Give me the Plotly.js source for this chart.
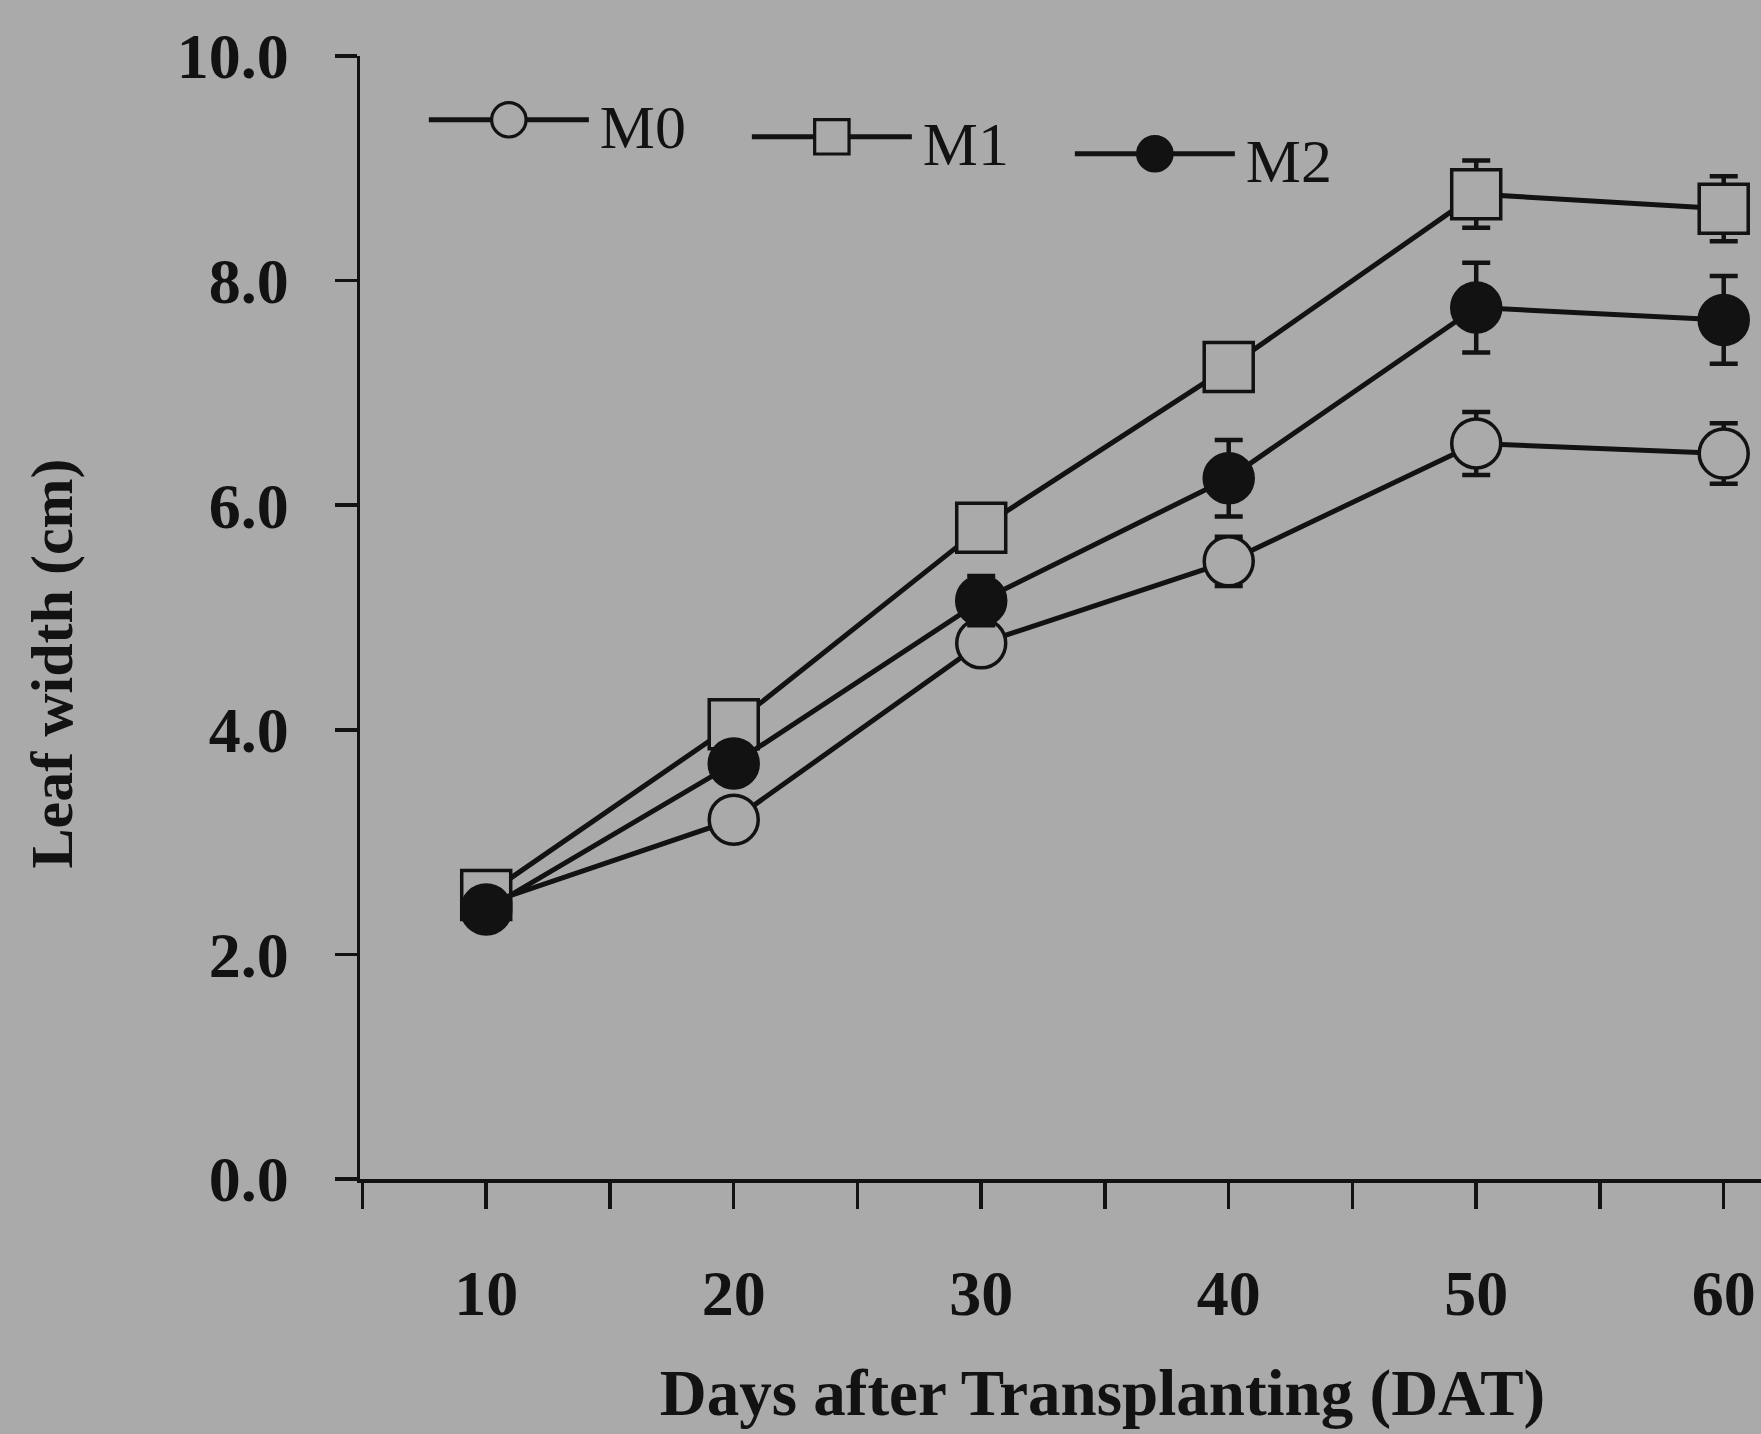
<!DOCTYPE html>
<html><head><meta charset="utf-8">
<script src="https://cdn.plot.ly/plotly-3.0.1.min.js"></script>
<style>html,body{margin:0;padding:0;overflow:hidden;background:#aaaaaa;} #chart{width:1845px;height:1434px;}</style>
</head><body><div id="chart"></div>
<script>
const days = [10, 20, 30, 40, 50, 60];
const seriesNames = ['M0', 'M1', 'M2'];
const m0 = [2.45, 3.20, 4.77, 5.50, 6.55, 6.46];
const m0Err = [0.08, 0.10, 0.12, 0.22, 0.28, 0.27];
const m1 = [2.53, 4.05, 5.80, 7.23, 8.77, 8.64];
const m1Err = [0.08, 0.12, 0.15, 0.18, 0.30, 0.29];
const m2 = [2.40, 3.70, 5.15, 6.24, 7.76, 7.65];
const m2Err = [0.08, 0.12, 0.22, 0.34, 0.40, 0.39];
const xTickVals = [5, 10, 15, 20, 25, 30, 35, 40, 45, 50, 55, 60, 65];
const xTickText = ['', '10', '', '20', '', '30', '', '40', '', '50', '', '60', ''];
const yTickVals = [0, 2, 4, 6, 8, 10];
const yTickText = ['0.0', '2.0', '4.0', '6.0', '8.0', '10.0'];

const BG = '#aaaaaa';
const INK = '#121212';
const FONT = 'Liberation Serif, Times New Roman, serif';

function mkTrace(name, y, err, symbol, fill) {
  return {
    type: 'scatter', mode: 'lines+markers', name: name,
    x: days, y: y,
    line: {color: INK, width: 5},
    marker: {symbol: symbol, size: 49, color: fill, line: {color: INK, width: 3.5}},
    error_y: {type: 'data', array: err, visible: true, color: INK, thickness: 4.5, width: 14},
    cliponaxis: false
  };
}

const data = [
  mkTrace(seriesNames[0], m0, m0Err, 'circle', BG),
  mkTrace(seriesNames[1], m1, m1Err, 'square', BG),
  mkTrace(seriesNames[2], m2, m2Err, 'circle', INK)
];

const layout = {
  width: 1845, height: 1434, autosize: false,
  paper_bgcolor: BG, plot_bgcolor: BG,
  margin: {l: 360, r: 0, t: 56, b: 255, pad: 0},
  font: {family: FONT, color: INK},
  showlegend: true,
  legend: {
    orientation: 'h', x: 0.043, y: 0.943, xanchor: 'left', yanchor: 'middle',
    bgcolor: 'rgba(0,0,0,0)', borderwidth: 0,
    font: {family: FONT, size: 62, color: INK},
    itemwidth: 166, entrywidth: 150, traceorder: 'normal'
  },
  xaxis: {
    range: [4.9, 64.9], tickmode: 'array', tickvals: xTickVals, ticktext: xTickText,
    showline: true, linecolor: INK, linewidth: 3.5,
    ticks: 'outside', ticklen: 26, tickwidth: 3.5, tickcolor: INK,
    showgrid: false, zeroline: false, automargin: false,
    tickfont: {family: FONT, size: 64, color: INK, weight: 'bold'},
    ticklabelstandoff: 30,
    title: {text: 'Days after Transplanting (DAT)', standoff: 42,
            font: {family: FONT, size: 65, color: INK, weight: 'bold'}}
  },
  yaxis: {
    range: [0, 10], tickmode: 'array', tickvals: yTickVals, ticktext: yTickText,
    showline: true, linecolor: INK, linewidth: 3.5,
    ticks: 'outside', ticklen: 22, tickwidth: 3.5, tickcolor: INK,
    showgrid: false, zeroline: false, automargin: false,
    tickfont: {family: FONT, size: 64, color: INK, weight: 'bold'},
    ticklabelstandoff: 33,
    title: {text: 'Leaf width (cm)', standoff: 85,
            font: {family: FONT, size: 60, color: INK, weight: 'bold'}}
  }
};

const gd = document.getElementById('chart');
Plotly.newPlot(gd, data, layout, {staticPlot: true, displayModeBar: false}).then(function () {
  const sb = gd.querySelector('.legend .scrollbox');
  if (sb) sb.removeAttribute('clip-path');
  const items = gd.querySelectorAll('.legend .traces');
  let x0 = null, y0 = null;
  items.forEach(function (g, i) {
    const tr = g.getAttribute('transform') || '';
    const m = tr.match(/translate\(\s*([-\d.]+)[ ,]+([-\d.]+)/);
    if (m && x0 === null) { x0 = parseFloat(m[1]); y0 = parseFloat(m[2]); }
    g.setAttribute('transform', 'translate(' + (x0 + i * 323) + ',' + (y0 + i * 17) + ')');
    const line = g.querySelector('path.js-line');
    if (line) line.setAttribute('d', 'M5,0h160');
    g.querySelectorAll('path.scatterpts').forEach(function (p) {
      p.setAttribute('transform', 'translate(85,0) scale(2.15)');
      p.style.strokeWidth = '1.5px';
    });
    const t = g.querySelector('text.legendtext');
    if (t) t.setAttribute('transform', 'translate(0,4)');
  });
  const yt = gd.querySelector('.ytitle');
  if (yt) {
    const base = yt.getAttribute('transform') || '';
    yt.setAttribute('transform', 'translate(0,46) ' + base);
  }
});
</script>
</body></html>
